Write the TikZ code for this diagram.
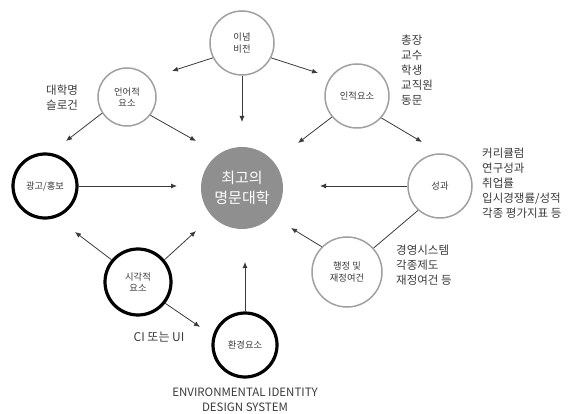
\documentclass[tikz,border=0pt]{standalone}
\usepackage{fontspec}
\setmainfont{Noto Sans CJK KR}
\usetikzlibrary{arrows.meta}
\definecolor{ring}{HTML}{A0A0A0}
\definecolor{core}{HTML}{8F8F8F}
\definecolor{ink}{HTML}{3A3A3A}
\begin{document}
\begin{tikzpicture}[x=1pt,y=-1pt,
  thin ring/.style={circle,draw=ring,line width=1.5pt,minimum size=#1,inner sep=0pt,align=center,font=\fontsize{9.3}{11.5}\selectfont,text=ink},
  bold ring/.style={circle,draw=black,line width=3.2pt,minimum size=#1,inner sep=0pt,align=center,font=\fontsize{9.3}{11.5}\selectfont,text=ink},
  arr/.style={draw=ink,line width=0.8pt,-{Latex[length=6pt,width=5pt]}},
  lab/.style={align=left,anchor=north west,inner sep=0pt,font=\fontsize{11.5}{15}\selectfont,text=ink}]
\useasboundingbox (0,0) rectangle (570,414);
\node[thin ring=64] (vision) at (242,43) {이념\\비전};
\node[thin ring=58] (lang) at (127,97) {언어적\\요소};
\node[thin ring=64] (human) at (357,96) {인적요소};
\node[thin ring=64] (result) at (440,186) {성과};
\node[thin ring=70] (admin) at (347,272) {행정 및\\재정여건};
\node[bold ring=64] (ad) at (45,186) {광고/홍보};
\node[bold ring=66] (visual) at (138,282) {시각적\\요소};
\node[bold ring=64] (env) at (245,345) {환경요소};
\node[circle,fill=core,minimum size=82,inner sep=0pt,align=center,text=white,font=\fontsize{15}{20}\selectfont] (top) at (242,188) {최고의\\명문대학};

\coordinate (t1) at (172,71);
\coordinate (t2) at (242,122);
\coordinate (t3) at (318,73);
\coordinate (t4) at (66,141);
\coordinate (t5) at (196,141);
\coordinate (t6) at (298,143);
\coordinate (t7) at (422,142);
\coordinate (t8) at (177,186);
\coordinate (t9) at (320,186);
\coordinate (t10) at (291,228);
\coordinate (t11) at (75,232);
\coordinate (t12) at (196,231);
\coordinate (t13) at (200,327);
\coordinate (t14) at (245,262);

\draw[arr] (vision.207) -- (t1);
\draw[arr] (vision.south) -- (t2);
\draw[arr] (vision.333) -- (t3);
\draw[arr] (lang.213) -- (t4);
\draw[arr] (lang.322) -- (t5);
\draw[arr] (human.220) -- (t6);
\draw[arr] (human.318) -- (t7);
\draw[arr] (ad.east) -- (t8);
\draw[arr] (result.west) -- (t9);
\draw[draw=ink,line width=0.8pt] (result.228) -- (admin.42);
\draw[arr] (admin.135) -- (t10);
\draw[arr] (visual.140) -- (t11);
\draw[arr] (visual.40) -- (t12);
\draw[arr] (visual.322) -- (t13);
\draw[arr] (env.north) -- (t14);

\node[lab] (l1) at (46,85) {대학명\\슬로건};
\node[lab] (l2) at (401,35) {총장\\교수\\학생\\교직원\\동문};
\node[lab] (l3) at (482,148) {커리큘럼\\연구성과\\취업률\\입시경쟁률/성적\\각종 평가지표 등};
\node[lab] (l4) at (396,245) {경영시스템\\각종제도\\재정여건 등};
\node[inner sep=0pt,font=\fontsize{12}{14}\selectfont,text=ink] (l5) at (159,337) {CI 또는 UI};
\node[inner sep=0pt,align=center,font=\fontsize{11.5}{15}\selectfont,text=ink] (l6) at (245,400) {ENVIRONMENTAL IDENTITY\\DESIGN SYSTEM};
\end{tikzpicture}
\end{document}
